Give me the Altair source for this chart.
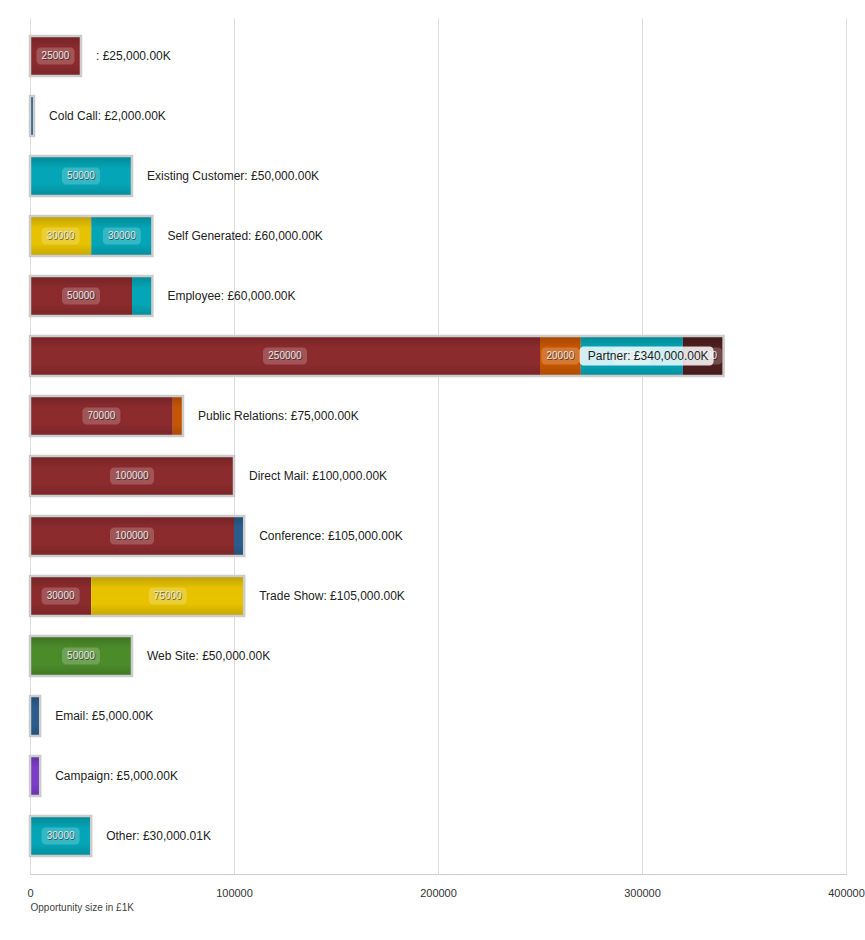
import altair as alt
import pandas as pd

# ---- data ----
sources = ["", "Cold Call", "Existing Customer", "Self Generated", "Employee", "Partner",
           "Public Relations", "Direct Mail", "Conference", "Trade Show", "Web Site",
           "Email", "Campaign", "Other"]
totals = [25000, 2000, 50000, 60000, 60000, 340000, 75000, 100000, 105000, 105000,
          50000, 5000, 5000, 30000.01]

stage_names = ["Prospecting", "Qualification", "Needs Analysis", "Proposal/Price Quote",
               "Closed Won", "Negotiation/Review", "Value Proposition", "Closed Lost"]
stage_colors = ["#8b2b2e", "#2b5d8c", "#e6c200", "#c85600", "#04a5b6", "#4b8b2a",
                "#7d3cc8", "#4f1e1f"]

seg_source = ["", "Cold Call", "Existing Customer", "Self Generated", "Self Generated",
              "Employee", "Employee", "Partner", "Partner", "Partner", "Partner",
              "Public Relations", "Public Relations", "Direct Mail", "Conference",
              "Conference", "Trade Show", "Trade Show", "Web Site", "Email", "Campaign", "Other"]
seg_stage = ["Prospecting", "Qualification", "Closed Won", "Needs Analysis", "Closed Won",
             "Prospecting", "Closed Won", "Prospecting", "Proposal/Price Quote", "Closed Won",
             "Closed Lost", "Prospecting", "Proposal/Price Quote", "Prospecting", "Prospecting",
             "Qualification", "Prospecting", "Needs Analysis", "Negotiation/Review",
             "Qualification", "Value Proposition", "Closed Won"]
seg_value = [25000, 2000, 50000, 30000, 30000, 50000, 10000, 250000, 20000, 50000, 20000,
             70000, 5000, 100000, 100000, 5000, 30000, 75000, 50000, 5000, 5000, 30000.01]

# ---- tables ----
rows, cum = [], {}
for src, stg, val in zip(seg_source, seg_stage, seg_value):
    s = cum.get(src, 0.0)
    rows.append(dict(source=src, row=sources.index(src), stage=stg, start=s, end=s + val,
                     mid=s + val / 2, value=val, lbl=str(int(round(val)))))
    cum[src] = s + val
seg = pd.DataFrame(rows)
seg["digits"] = seg["lbl"].str.len()

tot = pd.DataFrame(dict(source=sources, row=list(range(len(sources))), total=totals))
tot["label"] = [f"{s}: £{t:,.2f}K" for s, t in zip(sources, totals)]
tot["inside"] = tot["total"] > 300000

xscale = alt.Scale(domain=[0, 400000], nice=False, zero=True)
yenc = alt.Y("row:O", axis=None, scale=alt.Scale(paddingInner=1/3, paddingOuter=0.3))

xaxis = alt.Axis(values=[0, 100000, 200000, 300000, 400000], format="d", grid=True,
                 gridColor="#dcdcdc", domainColor="#cccccc", ticks=False, labelFontSize=11,
                 labelColor="#333333", labelPadding=13, labelFlush=False,
                 title="Opportunity size in £1K", titleFontSize=10, titleFontWeight="normal",
                 titleColor="#444444", titleAnchor="start", titleAlign="left", titlePadding=4)

base_seg = alt.Chart(seg)
base_tot = alt.Chart(tot)

bars = base_seg.mark_bar(height=40).encode(
    x=alt.X("start:Q", scale=xscale, axis=xaxis),
    x2="end:Q",
    y=yenc,
    color=alt.Color("stage:N", scale=alt.Scale(domain=stage_names, range=stage_colors),
                    legend=None),
)

grad = alt.Gradient(gradient="linear", x1=0, x2=0, y1=0, y2=1, stops=[
    alt.GradientStop(color="rgba(0,0,0,0.18)", offset=0),
    alt.GradientStop(color="rgba(0,0,0,0.0)", offset=0.3),
    alt.GradientStop(color="rgba(0,0,0,0.0)", offset=0.7),
    alt.GradientStop(color="rgba(0,0,0,0.15)", offset=1),
])
overlay = base_tot.mark_bar(height=40, fill=grad, stroke="#cccccc", strokeWidth=2.5).encode(
    x=alt.X("total:Q", scale=xscale, stack=None), y=yenc)

big = base_seg.transform_filter("datum.value >= 20000")
box5 = big.transform_filter("datum.digits == 5").mark_bar(
    height=17, cornerRadius=4, xOffset=-19, x2Offset=19, fill="white", fillOpacity=0.2
).encode(x=alt.X("mid:Q", scale=xscale), x2="mid:Q", y=yenc)
box6 = big.transform_filter("datum.digits == 6").mark_bar(
    height=17, cornerRadius=4, xOffset=-22, x2Offset=22, fill="white", fillOpacity=0.2
).encode(x=alt.X("mid:Q", scale=xscale), x2="mid:Q", y=yenc)
seg_shadow = big.mark_text(fontSize=10, fill="#000000", fillOpacity=0.55, dx=0.8, dy=0.8,
                           baseline="middle", align="center").encode(
    x=alt.X("mid:Q", scale=xscale), y=yenc, text="lbl:N")
seg_text = big.mark_text(fontSize=10, fill="#e6e6e6", baseline="middle",
                         align="center").encode(
    x=alt.X("mid:Q", scale=xscale), y=yenc, text="lbl:N")

out_text = base_tot.transform_filter("!datum.inside").mark_text(
    align="left", baseline="middle", dx=15, fontSize=12, color="#222222").encode(
    x=alt.X("total:Q", scale=xscale), y=yenc, text="label:N")

in_box = base_tot.transform_filter("datum.inside").mark_bar(
    height=19, cornerRadius=4, xOffset=-144, x2Offset=-10, fill="white", fillOpacity=0.82
).encode(x=alt.X("total:Q", scale=xscale), x2="total:Q", y=yenc)
in_text = base_tot.transform_filter("datum.inside").mark_text(
    align="right", baseline="middle", dx=-15, fontSize=12, color="#222222").encode(
    x=alt.X("total:Q", scale=xscale), y=yenc, text="label:N")

chart = alt.layer(bars, overlay, box5, box6, seg_shadow, seg_text, out_text, in_box,
                  in_text).properties(
    width=816, height=856,
    padding={"left": 30, "top": 18, "right": 19, "bottom": 48},
    autosize=alt.AutoSizeParams(type="none"),
).configure(font="Liberation Sans").configure_view(stroke=None)

chart.save("out.html", embed_options={"renderer": "svg", "actions": False})
